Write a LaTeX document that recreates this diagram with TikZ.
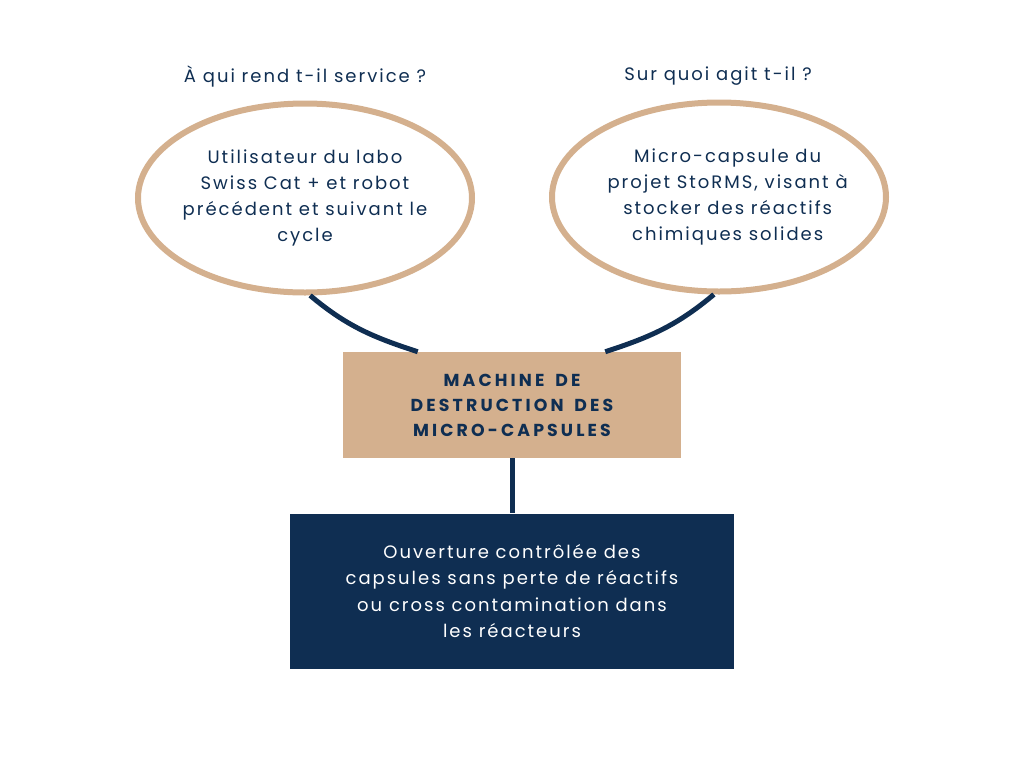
\documentclass[tikz,border=0pt]{standalone}
\usepackage{fontspec}
\setmainfont{Poppins}[LetterSpace=11]
\newfontfamily\headfont{Poppins}[UprightFont=* Bold,LetterSpace=18,WordSpace=1.6]
\usetikzlibrary{shapes.geometric}
\definecolor{tan}{RGB}{212,176,142}
\definecolor{navy}{RGB}{15,46,82}

\begin{document}
\begin{tikzpicture}[x=0.75pt,y=0.75pt,
  q/.style={text=navy,font=\fontsize{13.5}{15}\selectfont},
  oval/.style={ellipse,draw=tan,line width=4.5pt,inner xsep=-11pt,inner ysep=0pt,minimum width=250.5pt,minimum height=141.75pt,
    text=navy,align=center,font=\fontsize{13.5}{19.5}\selectfont},
  lnk/.style={draw=navy,line width=3.75pt}]

\useasboundingbox (0,0) rectangle (1024,-768);

% questions
\node[q] (q1) at (305,-76) {À qui rend t-il service ?};
\node[q] (q2) at (718,-76) {Sur quoi agit t-il ?};

% ellipses
\node[oval] (usr) at (305,-198) {Utilisateur du labo\\Swiss Cat + et robot\\précédent et suivant le\\cycle};
\node[oval] (cap) at (719,-197) {\hspace*{13pt}Micro-capsule du\\\hspace*{13pt}projet StoRMS, visant à\\\hspace*{13pt}stocker des réactifs\\\hspace*{13pt}chimiques solides};

% machine
\node[fill=tan,minimum width=253.5pt,minimum height=79.5pt,align=center,text=navy,
  font=\headfont\fontsize{13}{18.75}\selectfont] (mach) at (512,-405)
  {MACHINE DE\\DESTRUCTION DES\\MICRO-CAPSULES};

% result
\node[fill=navy,minimum width=333pt,minimum height=116.25pt,align=center,text=white,
  font=\fontsize{13.5}{19.8}\selectfont] (res) at (512,-591)
  {Ouverture contrôlée des\\capsules sans perte de réactifs\\ou cross contamination dans\\les réacteurs};

% links
\path[lnk] (usr.-87) to[out=-40,in=162] ([xshift=56.25pt]mach.north west);
\path[lnk] (cap.-93) to[out=220,in=18] ([xshift=-57pt]mach.north east);
\path[lnk] (mach.south) -- (res.north);
\end{tikzpicture}
\end{document}
